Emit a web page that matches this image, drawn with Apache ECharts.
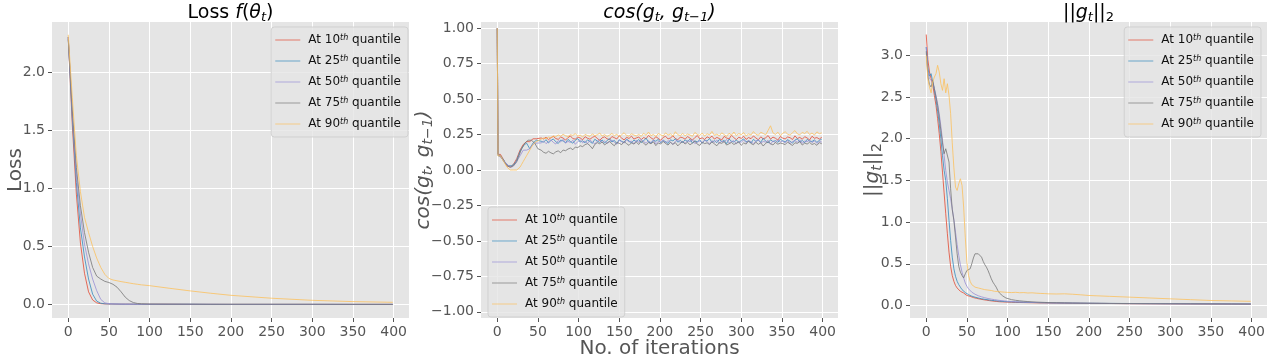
<!DOCTYPE html>
<html>
<head>
<meta charset="utf-8">
<script src="https://cdn.jsdelivr.net/npm/echarts@6/dist/echarts.min.js"></script>
<style>
  html, body { margin: 0; background: #fff; }
  #main { width: 1280px; height: 358px; }
</style>
</head>
<body>
<div id="main"></div>
<script>
// ---- data ----
const seriesNames = ['At 10th quantile', 'At 25th quantile', 'At 50th quantile', 'At 75th quantile', 'At 90th quantile'];
const xTicks = [0, 50, 100, 150, 200, 250, 300, 350, 400];
const lossTicks = [0, 0.5, 1, 1.5, 2];
const cosTicks = [-1, -0.75, -0.5, -0.25, 0, 0.25, 0.5, 0.75, 1];
const gradTicks = [0, 0.5, 1, 1.5, 2, 2.5, 3];

// panel 1: loss
const lossIters = [0, 5, 10, 15, 20, 25, 30, 35, 40, 45, 50, 55, 60, 65, 70, 75, 80, 85, 90, 100, 125, 150, 175, 200, 250, 300, 350, 399];
const loss10 = [2.30, 1.55, 0.95, 0.53, 0.27, 0.11, 0.04, 0.015, 0.008, 0.006, 0.005, 0.005, 0.004, 0.004, 0.004, 0.004, 0.003, 0.003, 0.003, 0.003, 0.003, 0.002, 0.002, 0.002, 0.002, 0.002, 0.002, 0.002];
const loss25 = [2.30, 1.60, 1.05, 0.66, 0.41, 0.22, 0.09, 0.03, 0.012, 0.007, 0.006, 0.005, 0.005, 0.004, 0.004, 0.004, 0.004, 0.003, 0.003, 0.003, 0.003, 0.003, 0.002, 0.002, 0.002, 0.002, 0.002, 0.002];
const loss50 = [2.30, 1.65, 1.12, 0.78, 0.52, 0.35, 0.22, 0.12, 0.045, 0.015, 0.008, 0.006, 0.005, 0.005, 0.004, 0.004, 0.004, 0.004, 0.003, 0.003, 0.003, 0.003, 0.003, 0.002, 0.002, 0.002, 0.002, 0.002];
const loss75 = [2.28, 1.68, 1.18, 0.85, 0.62, 0.45, 0.32, 0.245, 0.22, 0.20, 0.19, 0.175, 0.15, 0.11, 0.065, 0.035, 0.018, 0.010, 0.007, 0.005, 0.004, 0.004, 0.003, 0.003, 0.003, 0.003, 0.002, 0.002];
const loss90 = [2.32, 1.78, 1.28, 0.97, 0.75, 0.62, 0.50, 0.40, 0.32, 0.26, 0.225, 0.212, 0.205, 0.198, 0.192, 0.186, 0.180, 0.175, 0.170, 0.163, 0.140, 0.118, 0.098, 0.080, 0.055, 0.037, 0.026, 0.020];

// panel 2: cosine between consecutive gradients
const cosIters = [0, 1, 2, 4, 6, 8, 10, 12, 14, 16, 18, 20, 22, 24, 26, 28, 30, 32, 34, 36, 38, 40, 42, 44, 46, 48, 50,
  54, 57, 60, 63, 66, 69, 72, 75, 78, 81, 84, 87, 90, 93, 96, 99, 102, 105, 108, 111,
  114, 117, 120, 123, 126, 129, 132, 135, 138, 141, 144, 147, 150, 153, 156, 159, 162, 165, 168, 171,
  174, 177, 180, 183, 186, 189, 192, 195, 198, 201, 204, 207, 210, 213, 216, 219, 222, 225, 228, 231,
  234, 237, 240, 243, 246, 249, 252, 255, 258, 261, 264, 267, 270, 273, 276, 279, 282, 285, 288, 291,
  294, 297, 300, 303, 306, 309, 312, 315, 318, 321, 324, 327, 330, 333, 336, 339, 342, 345, 348, 351,
  354, 357, 360, 363, 366, 369, 372, 375, 378, 381, 384, 387, 390, 393, 396, 399];
const cos10 = [1.0, 0.11, 0.10, 0.11, 0.09, 0.07, 0.05, 0.03, 0.03, 0.02, 0.03, 0.04, 0.05, 0.08, 0.11, 0.14, 0.16, 0.18, 0.19, 0.20, 0.21, 0.20, 0.21, 0.22, 0.21, 0.22, 0.21,
  0.226, 0.219, 0.231, 0.214, 0.228, 0.237, 0.222, 0.216, 0.233, 0.225, 0.211, 0.229, 0.240, 0.221, 0.218, 0.232, 0.226, 0.213, 0.235, 0.224,
  0.217, 0.230, 0.238, 0.223, 0.209, 0.227, 0.234, 0.220, 0.215, 0.236, 0.228, 0.219, 0.242, 0.225, 0.212, 0.231, 0.222, 0.239, 0.218, 0.226,
  0.233, 0.214, 0.229, 0.221, 0.244, 0.227, 0.216, 0.235, 0.223, 0.210, 0.230, 0.238, 0.219, 0.226, 0.241, 0.222, 0.213, 0.232, 0.228, 0.217,
  0.236, 0.224, 0.211, 0.229, 0.243, 0.220, 0.227, 0.215, 0.234, 0.225, 0.239, 0.218, 0.230, 0.222, 0.212, 0.237, 0.226, 0.219, 0.245, 0.228,
  0.214, 0.231, 0.223, 0.238, 0.216, 0.229, 0.221, 0.240, 0.226, 0.213, 0.234, 0.220, 0.227, 0.243, 0.218, 0.232, 0.224, 0.211, 0.236, 0.225,
  0.219, 0.233, 0.228, 0.215, 0.241, 0.222, 0.230, 0.217, 0.235, 0.226, 0.212, 0.238, 0.224, 0.229, 0.218, 0.231];
const cos25 = [1.0, 0.11, 0.11, 0.10, 0.09, 0.07, 0.05, 0.04, 0.03, 0.02, 0.03, 0.03, 0.05, 0.07, 0.10, 0.13, 0.15, 0.17, 0.18, 0.19, 0.17, 0.15, 0.16, 0.19, 0.20, 0.21, 0.20,
  0.203, 0.196, 0.214, 0.191, 0.208, 0.219, 0.199, 0.187, 0.211, 0.205, 0.193, 0.216, 0.201, 0.189, 0.210, 0.222, 0.197, 0.206, 0.192, 0.213,
  0.200, 0.188, 0.217, 0.204, 0.195, 0.212, 0.190, 0.207, 0.221, 0.198, 0.209, 0.186, 0.214, 0.202, 0.194, 0.218, 0.205, 0.191, 0.211, 0.199,
  0.215, 0.193, 0.206, 0.224, 0.197, 0.189, 0.210, 0.203, 0.216, 0.192, 0.208, 0.200, 0.187, 0.213, 0.205, 0.220, 0.196, 0.209, 0.194, 0.212,
  0.201, 0.217, 0.190, 0.206, 0.198, 0.214, 0.188, 0.211, 0.204, 0.222, 0.195, 0.207, 0.193, 0.215, 0.200, 0.209, 0.186, 0.218, 0.203, 0.197,
  0.212, 0.194, 0.208, 0.219, 0.199, 0.205, 0.190, 0.216, 0.202, 0.210, 0.196, 0.223, 0.204, 0.191, 0.213, 0.200, 0.207, 0.195, 0.217, 0.206,
  0.198, 0.214, 0.203, 0.189, 0.211, 0.220, 0.197, 0.208, 0.193, 0.216, 0.204, 0.201, 0.212, 0.195, 0.209, 0.218];
const cos50 = [1.0, 0.12, 0.10, 0.11, 0.08, 0.07, 0.05, 0.04, 0.03, 0.03, 0.02, 0.03, 0.04, 0.06, 0.08, 0.10, 0.12, 0.14, 0.15, 0.14, 0.13, 0.15, 0.17, 0.18, 0.19, 0.20, 0.19,
  0.191, 0.204, 0.186, 0.199, 0.212, 0.195, 0.183, 0.207, 0.198, 0.216, 0.189, 0.202, 0.194, 0.209, 0.181, 0.200, 0.213, 0.192, 0.205, 0.187,
  0.210, 0.197, 0.184, 0.203, 0.215, 0.193, 0.206, 0.188, 0.199, 0.211, 0.196, 0.182, 0.208, 0.201, 0.190, 0.214, 0.197, 0.204, 0.185, 0.209,
  0.195, 0.217, 0.200, 0.189, 0.206, 0.193, 0.211, 0.184, 0.202, 0.198, 0.213, 0.190, 0.207, 0.196, 0.180, 0.203, 0.210, 0.194, 0.201, 0.188,
  0.208, 0.199, 0.214, 0.186, 0.197, 0.205, 0.192, 0.210, 0.201, 0.183, 0.206, 0.195, 0.212, 0.189, 0.203, 0.198, 0.215, 0.191, 0.200, 0.207,
  0.185, 0.202, 0.196, 0.211, 0.193, 0.208, 0.199, 0.187, 0.204, 0.214, 0.190, 0.201, 0.197, 0.209, 0.182, 0.205, 0.194, 0.212, 0.198, 0.203,
  0.192, 0.210, 0.186, 0.201, 0.207, 0.195, 0.213, 0.189, 0.204, 0.199, 0.211, 0.193, 0.206, 0.188, 0.202, 0.197];
const cos75 = [1.0, 0.10, 0.11, 0.10, 0.08, 0.06, 0.05, 0.03, 0.02, 0.02, 0.02, 0.03, 0.04, 0.06, 0.09, 0.12, 0.15, 0.17, 0.19, 0.20, 0.21, 0.20, 0.21, 0.20, 0.19, 0.17, 0.15,
  0.140, 0.125, 0.118, 0.132, 0.121, 0.114, 0.128, 0.135, 0.122, 0.141, 0.136, 0.148, 0.155, 0.143, 0.162, 0.158, 0.171, 0.165, 0.179, 0.186,
  0.172, 0.150, 0.181, 0.193, 0.185, 0.198, 0.177, 0.190, 0.203, 0.184, 0.171, 0.195, 0.188, 0.179, 0.201, 0.186, 0.174, 0.192, 0.183, 0.197,
  0.180, 0.206, 0.189, 0.175, 0.194, 0.185, 0.199, 0.172, 0.191, 0.183, 0.202, 0.187, 0.176, 0.196, 0.181, 0.193, 0.170, 0.188, 0.200, 0.184,
  0.195, 0.178, 0.190, 0.204, 0.182, 0.173, 0.197, 0.186, 0.192, 0.179, 0.199, 0.184, 0.171, 0.193, 0.188, 0.201, 0.176, 0.185, 0.194, 0.180,
  0.189, 0.198, 0.174, 0.191, 0.183, 0.205, 0.187, 0.178, 0.196, 0.181, 0.192, 0.169, 0.188, 0.200, 0.185, 0.177, 0.194, 0.182, 0.190, 0.186,
  0.179, 0.197, 0.184, 0.173, 0.192, 0.188, 0.201, 0.176, 0.190, 0.183, 0.195, 0.180, 0.187, 0.174, 0.193, 0.185];
const cos90 = [1.0, 0.10, 0.11, 0.10, 0.08, 0.06, 0.04, 0.02, 0.01, 0.00, -0.01, 0.00, -0.01, 0.00, 0.01, 0.02, 0.04, 0.06, 0.08, 0.10, 0.12, 0.14, 0.16, 0.18, 0.19, 0.20, 0.21,
  0.218, 0.226, 0.221, 0.232, 0.228, 0.240, 0.235, 0.247, 0.238, 0.252, 0.241, 0.236, 0.249, 0.244, 0.257, 0.239, 0.246, 0.233, 0.251, 0.243,
  0.237, 0.255, 0.242, 0.248, 0.261, 0.239, 0.250, 0.236, 0.246, 0.258, 0.241, 0.253, 0.234, 0.249, 0.263, 0.244, 0.238, 0.256, 0.247, 0.240,
  0.252, 0.237, 0.259, 0.245, 0.268, 0.242, 0.251, 0.236, 0.257, 0.248, 0.240, 0.262, 0.246, 0.255, 0.239, 0.270, 0.249, 0.243, 0.258, 0.241,
  0.254, 0.247, 0.238, 0.265, 0.251, 0.244, 0.260, 0.239, 0.256, 0.248, 0.272, 0.245, 0.253, 0.241, 0.262, 0.250, 0.237, 0.259, 0.246, 0.268,
  0.243, 0.257, 0.249, 0.264, 0.240, 0.255, 0.247, 0.271, 0.252, 0.245, 0.266, 0.258, 0.248, 0.279, 0.312, 0.262, 0.251, 0.267, 0.244, 0.259,
  0.270, 0.253, 0.246, 0.263, 0.278, 0.255, 0.248, 0.266, 0.257, 0.273, 0.250, 0.261, 0.247, 0.269, 0.256, 0.262];

// panel 3: gradient norm
const gradIters = [0, 2, 4, 6, 8, 10, 12, 14, 16, 18, 20, 22, 24, 26, 28, 30, 32, 34, 36, 38, 40, 42, 44, 46, 48, 50,
  52, 54, 56, 58, 60, 62, 64, 66, 68, 70, 72, 74, 76, 78, 80, 82, 84, 86, 88, 90, 92, 94, 96, 98, 100,
  105, 110, 115, 120, 125, 130, 135, 140, 145, 150, 160, 170, 180, 190, 200, 225, 250, 275, 300, 325, 350, 375, 399];
const grad10 = [3.25, 2.95, 2.80, 2.72, 2.65, 2.52, 2.40, 2.24, 2.06, 1.85, 1.60, 1.35, 1.10, 0.86, 0.64, 0.47, 0.36, 0.29, 0.24, 0.21, 0.19, 0.17, 0.16, 0.15, 0.13, 0.12,
  0.115, 0.11, 0.10, 0.095, 0.09, 0.085, 0.08, 0.077, 0.073, 0.07, 0.067, 0.064, 0.061, 0.058, 0.055, 0.053, 0.051, 0.049, 0.047, 0.045, 0.044, 0.043, 0.042, 0.041, 0.040,
  0.039, 0.037, 0.036, 0.035, 0.034, 0.033, 0.032, 0.031, 0.031, 0.030, 0.029, 0.028, 0.027, 0.026, 0.025, 0.024, 0.022, 0.021, 0.020, 0.019, 0.018, 0.017, 0.016];
const grad25 = [3.10, 2.85, 2.75, 2.78, 2.68, 2.58, 2.47, 2.33, 2.18, 2.00, 1.80, 1.62, 1.50, 1.28, 1.02, 0.78, 0.58, 0.44, 0.35, 0.29, 0.25, 0.22, 0.19, 0.17, 0.155, 0.14,
  0.13, 0.12, 0.112, 0.105, 0.10, 0.095, 0.09, 0.085, 0.081, 0.078, 0.074, 0.071, 0.068, 0.065, 0.062, 0.060, 0.058, 0.056, 0.054, 0.052, 0.050, 0.049, 0.047, 0.046, 0.045,
  0.043, 0.041, 0.040, 0.038, 0.037, 0.036, 0.035, 0.034, 0.033, 0.032, 0.031, 0.030, 0.029, 0.028, 0.027, 0.025, 0.024, 0.023, 0.022, 0.021, 0.020, 0.019, 0.018];
const grad50 = [3.10, 2.80, 2.72, 2.74, 2.68, 2.60, 2.52, 2.42, 2.30, 2.15, 1.98, 1.80, 1.62, 1.48, 1.38, 1.28, 1.16, 1.03, 0.88, 0.73, 0.60, 0.49, 0.40, 0.33, 0.27, 0.23,
  0.20, 0.18, 0.16, 0.145, 0.135, 0.125, 0.117, 0.11, 0.104, 0.098, 0.093, 0.088, 0.084, 0.080, 0.076, 0.073, 0.070, 0.067, 0.064, 0.061, 0.059, 0.057, 0.055, 0.053, 0.051,
  0.048, 0.045, 0.043, 0.041, 0.039, 0.037, 0.036, 0.034, 0.033, 0.032, 0.030, 0.029, 0.028, 0.027, 0.026, 0.024, 0.022, 0.021, 0.020, 0.019, 0.018, 0.017, 0.016];
const grad75 = [3.05, 2.75, 2.65, 2.62, 2.70, 2.60, 2.50, 2.40, 2.26, 2.10, 1.95, 1.82, 1.88, 1.90, 1.72, 1.40, 1.15, 1.02, 0.82, 0.62, 0.47, 0.40, 0.36, 0.33, 0.38, 0.42,
  0.41, 0.44, 0.50, 0.57, 0.62, 0.60, 0.62, 0.61, 0.58, 0.53, 0.49, 0.46, 0.42, 0.37, 0.32, 0.28, 0.25, 0.22, 0.18, 0.15, 0.13, 0.115, 0.10, 0.09, 0.08,
  0.070, 0.062, 0.056, 0.051, 0.047, 0.044, 0.041, 0.039, 0.037, 0.035, 0.033, 0.031, 0.029, 0.028, 0.027, 0.025, 0.023, 0.022, 0.021, 0.020, 0.019, 0.018, 0.017];
const grad90 = [3.00, 2.72, 2.62, 2.55, 2.68, 2.74, 2.78, 2.88, 2.80, 2.66, 2.58, 2.72, 2.55, 2.66, 2.52, 2.30, 1.95, 1.65, 1.42, 1.38, 1.46, 1.52, 1.44, 1.18, 0.82, 0.52,
  0.36, 0.29, 0.25, 0.23, 0.22, 0.215, 0.21, 0.205, 0.20, 0.195, 0.19, 0.19, 0.185, 0.18, 0.18, 0.175, 0.17, 0.17, 0.168, 0.165, 0.163, 0.16, 0.16, 0.158, 0.157,
  0.155, 0.158, 0.153, 0.155, 0.150, 0.152, 0.148, 0.145, 0.143, 0.140, 0.138, 0.140, 0.135, 0.128, 0.120, 0.110, 0.100, 0.090, 0.080, 0.070, 0.060, 0.055, 0.050];

// ---- styling ----
const FONT = 'DejaVu Sans';
const colors = ['#E24A33', '#348ABD', '#988ED5', '#777777', '#FBC15E'];
const GREY = '#555555';

const grids = [
  { left: 52, top: 22, width: 357, height: 296 },
  { left: 481, top: 22, width: 357, height: 296 },
  { left: 910, top: 22, width: 357, height: 296 }
].map(g => Object.assign(g, { show: true, backgroundColor: '#E5E5E5', borderWidth: 0, containLabel: false, outerBoundsMode: 'none' }));

function pair(xs, ys) {
  return xs.map((x, i) => [x, ys[i]]);
}

function xAxis(gi, name) {
  return {
    type: 'value', gridIndex: gi, min: -19.95, max: 418.95,
    name: name || '', nameLocation: 'middle', nameGap: 21, nameMoveOverlap: false,
    nameTextStyle: { fontFamily: FONT, fontSize: 20, color: GREY },
    axisLine: { show: false, onZero: false },
    axisTick: { show: true, length: 4, customValues: xTicks, lineStyle: { color: GREY } },
    axisLabel: { customValues: xTicks, color: GREY, fontSize: 14, margin: 7, fontFamily: FONT },
    splitLine: { show: true, lineStyle: { color: '#fff', width: 1 } }
  };
}

const subRich = {
  i: { fontStyle: 'italic', fontSize: 20, fontFamily: FONT, color: GREY },
  sub: { fontStyle: 'italic', fontSize: 14, fontFamily: FONT, color: GREY, padding: [8, 0, 0, 0] },
  sub2: { fontSize: 14, fontFamily: FONT, color: GREY, padding: [8, 0, 0, 0] }
};

function yAxis(gi, min, max, ticks, digits, name, gap) {
  return {
    type: 'value', gridIndex: gi, min: min, max: max,
    name: name, nameLocation: 'middle', nameGap: gap, nameMoveOverlap: false,
    nameTextStyle: { fontFamily: FONT, fontSize: 20, color: GREY, rich: subRich },
    axisLine: { show: false, onZero: false },
    axisTick: { show: true, length: 4, customValues: ticks, lineStyle: { color: GREY } },
    axisLabel: {
      customValues: ticks, color: GREY, fontSize: 14, margin: 7, fontFamily: FONT,
      formatter: v => v.toFixed(digits).replace('-', '\u2212')
    },
    splitLine: { show: true, lineStyle: { color: '#fff', width: 1 } }
  };
}

function lines(gi, xs, arrays) {
  return arrays.map((ys, k) => ({
    type: 'line', name: seriesNames[k], xAxisIndex: gi, yAxisIndex: gi,
    data: pair(xs, ys), showSymbol: false, symbol: 'none',
    lineStyle: { width: 1, color: colors[k], opacity: 0.8 },
    itemStyle: { color: colors[k] },
    emphasis: { disabled: true }
  }));
}

function legend(pos) {
  return Object.assign({
    data: seriesNames, orient: 'vertical', icon: 'rect',
    itemWidth: 25, itemHeight: 1, itemGap: 9,
    padding: [7, 7, 7, 4],
    backgroundColor: 'rgba(229,229,229,0.8)',
    borderColor: 'rgba(204,204,204,0.8)', borderWidth: 1, borderRadius: 3,
    itemStyle: { opacity: 0.7 },
    formatter: n => n.replace(/(\d+)th/, '$1{s|th}'),
    textStyle: {
      fontFamily: FONT, fontSize: 12, color: '#111', padding: [0, 0, 0, 3],
      rich: { s: { fontFamily: FONT, fontSize: 8, fontStyle: 'italic', color: '#111', verticalAlign: 'top' } }
    }
  }, pos);
}

const titleRich = {
  i: { fontStyle: 'italic', fontSize: 19, fontFamily: FONT, color: '#000' },
  sub: { fontStyle: 'italic', fontSize: 13, fontFamily: FONT, color: '#000', padding: [8, 0, 0, 0] },
  sub2: { fontSize: 13, fontFamily: FONT, color: '#000', padding: [8, 0, 0, 0] }
};
function title(cx, text) {
  return {
    text: text, left: cx, top: 3, textAlign: 'center', padding: 0,
    textStyle: { fontFamily: FONT, fontSize: 19, fontWeight: 'normal', color: '#000', rich: titleRich }
  };
}

const chart = echarts.init(document.getElementById('main'), null, { renderer: 'canvas' });
chart.setOption({
  animation: false,
  backgroundColor: '#fff',
  title: [
    title(230.5, 'Loss {i|f}({i|θ}{sub|t})'),
    title(659.5, '{i|cos(g}{sub|t}{i|, g}{sub|t−1}{i|)}'),
    title(1088.5, '||{i|g}{sub|t}||{sub2|2}')
  ],
  grid: grids,
  xAxis: [xAxis(0), xAxis(1, 'No. of iterations'), xAxis(2)],
  yAxis: [
    yAxis(0, -0.115, 2.43, lossTicks, 1, 'Loss', 26),
    yAxis(1, -1.044, 1.044, cosTicks, 2, '{i|cos(g}{sub|t}{i|, g}{sub|t−1}{i|)}', 46),
    yAxis(2, -0.15, 3.40, gradTicks, 1, '||{i|g}{sub|t}||{sub2|2}', 26)
  ],
  legend: [
    legend({ right: 872, top: 27 }),
    legend({ left: 488, top: 207 }),
    legend({ right: 19, top: 27 })
  ],
  series: [].concat(
    lines(0, lossIters, [loss10, loss25, loss50, loss75, loss90]),
    lines(1, cosIters, [cos10, cos25, cos50, cos75, cos90]),
    lines(2, gradIters, [grad10, grad25, grad50, grad75, grad90])
  )
});
</script>
</body>
</html>
